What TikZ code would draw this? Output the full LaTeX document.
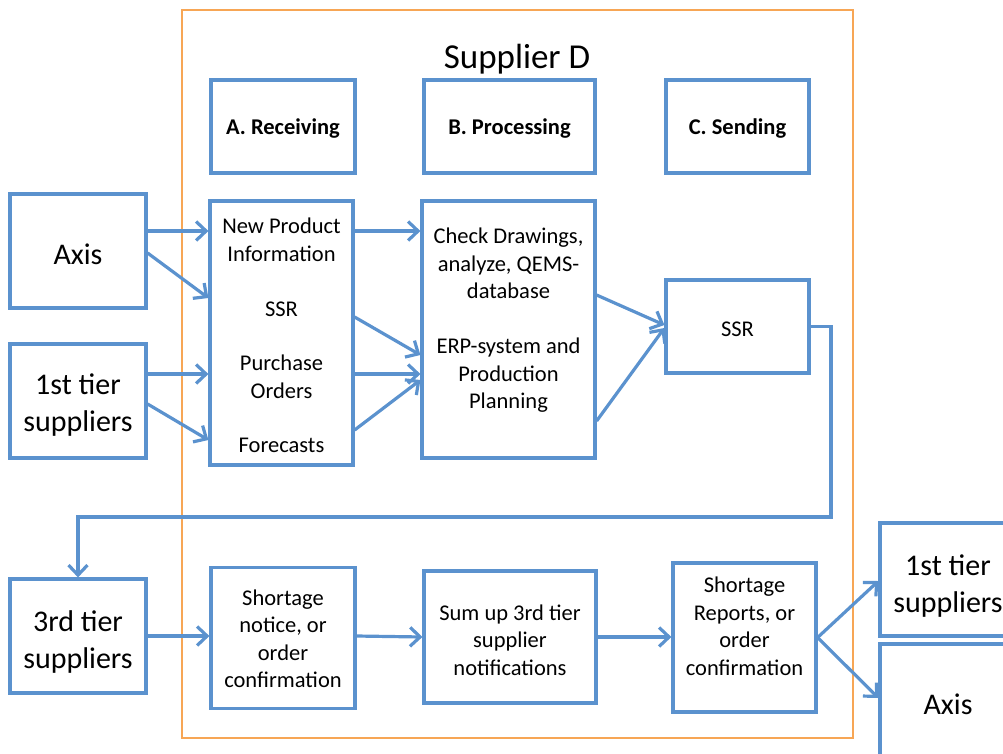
\documentclass[tikz,border=0pt]{standalone}
\usepackage{fontspec}
\setmainfont{Carlito}
\usetikzlibrary{arrows.meta,calc}
\definecolor{bl}{RGB}{91,146,206}
\definecolor{org}{RGB}{247,166,85}
\begin{document}
\begin{tikzpicture}[x=1pt,y=-1pt,
  box/.style={draw=bl,line width=3.2pt,fill=white,inner sep=0pt,align=center},
  txt/.style={font=\fontsize{22.5}{27.5}\selectfont,align=center,inner sep=0pt},
  big/.style={font=\fontsize{30}{37}\selectfont,align=center,inner sep=0pt},
  hdr/.style={font=\fontsize{22.5}{24}\selectfont\bfseries,inner sep=0pt},
  arr/.style={draw=bl,line width=3.2pt,-{Straight Barb[length=10pt,width=19pt,line width=3.2pt]}}]
\useasboundingbox (0,0) rectangle (1003,753);
\clip (0,0) rectangle (1003,753);
% frame
\draw[org,line width=2.4pt] (182,10) rectangle (853,738);
\node[font=\fontsize{35}{40}\selectfont] (title) at (517,59) {Supplier D};
% headers
\node[box,minimum width=144pt,minimum height=93pt] (hA) at (283,126.5) {};
\node[box,minimum width=171pt,minimum height=93pt] (hB) at (509.5,126.5) {};
\node[box,minimum width=143pt,minimum height=93pt] (hC) at (737.5,126.5) {};
\node[hdr] (hAt) at (283,129) {A. Receiving};
\node[hdr] (hBt) at (509.5,129) {B. Processing};
\node[hdr] (hCt) at (737.5,129) {C. Sending};
% left boxes
\node[box,minimum width=136pt,minimum height=114pt] (axis) at (78,251) {};
\node[big] (axist) at (78,254) {Axis};
\node[box,minimum width=136pt,minimum height=114pt] (t1L) at (78,401) {};
\node[big] (t1Lt) at (78,405) {1st tier\\suppliers};
\node[box,minimum width=136pt,minimum height=114pt] (t3) at (78,636) {};
\node[big] (t3t) at (78,642) {3rd tier\\suppliers};
% receiving
\node[box,minimum width=143pt,minimum height=264pt] (recv) at (281.5,333) {};
\node[txt] (npi) at (281.5,240) {New Product\\Information};
\node[txt] (ssrA) at (281.5,309) {SSR};
\node[txt] (po) at (281.5,377) {Purchase\\Orders};
\node[txt] (fc) at (281.5,445) {Forecasts};
% processing
\node[box,minimum width=173pt,minimum height=257pt] (proc) at (508.5,329.5) {};
\node[txt] (chk) at (508.5,263.5) {Check Drawings,\\analyze, QEMS-\\database};
\node[txt] (erp) at (508.5,375.5) {ERP-system and\\Production\\Planning};
% sending
\node[box,minimum width=143pt,minimum height=93pt] (ssr) at (737.5,326.5) {};
\node[txt] (ssrt) at (737.5,329.5) {SSR};
% bottom row
\node[box,minimum width=144pt,minimum height=141pt] (short) at (283,638) {};
\node[txt] (shortt) at (283,639) {Shortage\\notice, or\\order\\confirmation};
\node[box,minimum width=172pt,minimum height=132pt] (sum) at (510,637) {};
\node[txt] (sumt) at (510,640) {Sum up 3rd tier\\supplier\\notifications};
\node[box,minimum width=143pt,minimum height=149pt] (rep) at (744.5,637.5) {};
\node[txt] (rept) at (744.5,626.5) {Shortage\\Reports, or\\order\\confirmation};
% right boxes
\node[box,minimum width=136pt,minimum height=113pt] (t1R) at (948,579.5) {};
\node[big] (t1Rt) at (948,586) {1st tier\\suppliers};
\node[box,minimum width=136pt,minimum height=116pt] (axR) at (948,702) {};
\node[big] (axRt) at (948,704) {Axis};
% arrows
\draw[arr] (axis.east|-0,231) -- (recv.west|-0,231);
\draw[arr] (axis.east|-0,253) -- (recv.west|-0,298);
\draw[arr] (t1L.east|-0,374) -- (recv.west|-0,374);
\draw[arr] (t1L.east|-0,404) -- (recv.west|-0,440);
\draw[arr] (recv.east|-0,231) -- (proc.west|-0,231);
\draw[arr] (recv.east|-0,317) -- (proc.west|-0,355);
\draw[arr] (recv.east|-0,374) -- (proc.west|-0,374);
\draw[arr] (recv.east|-0,430) -- (proc.west|-0,380);
\draw[arr] (proc.east|-0,295) -- (ssr.west|-0,325);
\draw[arr] (proc.east|-0,421) -- (ssr.west|-0,328);
\coordinate (elb) at (831,517);
\draw[arr] (ssr.east) -| (elb) -| (t3.north);
\draw[arr] (t3.east) -- (short.west|-0,636);
\draw[arr] (short.east|-0,636) -- (sum.west|-0,637);
\draw[arr] (sum.east|-0,637) -- (rep.west|-0,637);
\draw[arr] (rep.east) -- (t1R.west|-0,581);
\draw[arr] (rep.east) -- (axR.west|-0,698);
\end{tikzpicture}
\end{document}
